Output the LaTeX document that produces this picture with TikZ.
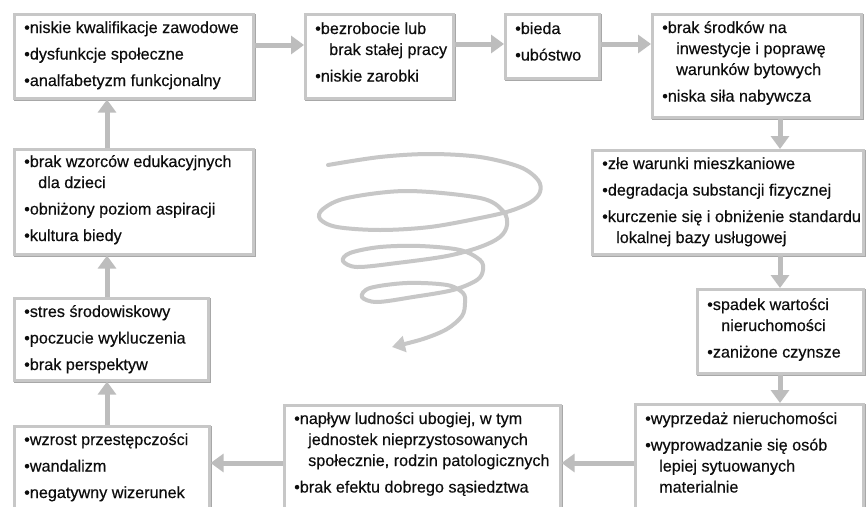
\documentclass[tikz,border=0pt]{standalone}
\usepackage{fontspec}
\setmainfont[FakeBold=0.35]{Liberation Sans}
\usetikzlibrary{arrows.meta,calc}
\newcommand\bl[1]{\hbox{•#1}}
\newcommand\cl[1]{\hbox{\kern14pt #1}}
\newcommand\gp{\vskip5.5pt}
\newcommand\lst[1]{\vtop{\baselineskip=21pt\lineskiplimit=-20pt #1}}
\tikzset{
  box/.style={rectangle, draw=black!22, line width=2.6pt, fill=white, inner sep=0pt, anchor=north west,
    preaction={draw=black!34, line width=2.6pt, transform canvas={shift={(1.2pt,-1.4pt)}}}},
  txt/.style={anchor=base west, inner sep=0pt, text=black!95, font=\fontsize{16.2}{21}\selectfont},
  conn/.style={draw=black!26, line width=5pt, -{Triangle[length=13pt,width=18pt]}},
  spiral/.style={draw=black!22, line width=4pt, line cap=round, -{Triangle[length=13pt,width=16pt]}}
}
\begin{document}
\begin{tikzpicture}[x=1pt,y=-1pt]
\useasboundingbox (0,0) rectangle (867,506);
\fill[white] (0,0) rectangle (867,506);
\clip (0,0) rectangle (867,506);
% boxes
\node[box, minimum width=239pt, minimum height=84pt] (b1) at (13,13) {};
\node[box, minimum width=148pt, minimum height=84pt] (b2) at (304,13) {};
\node[box, minimum width=94pt, minimum height=64pt] (b3) at (504,13) {};
\node[box, minimum width=209pt, minimum height=103pt] (b4) at (651,13) {};
\node[box, minimum width=271pt, minimum height=104pt] (b5) at (591,149) {};
\node[box, minimum width=166pt, minimum height=84pt] (b6) at (696,288) {};
\node[box, minimum width=228pt, minimum height=130pt] (b7) at (634,403) {};
\node[box, minimum width=276pt, minimum height=130pt] (b8) at (283,404) {};
\node[box, minimum width=195pt, minimum height=110pt] (b9) at (13,425) {};
\node[box, minimum width=239pt, minimum height=105pt] (b10) at (13,148) {};
\node[box, minimum width=194pt, minimum height=82pt] (b11) at (13,297) {};
% texts
\node[txt] (t1) at ($(b1.north west)+(11,20)$) {\lst{\bl{niskie kwalifikacje zawodowe}\gp\bl{dysfunkcje społeczne}\gp\bl{analfabetyzm funkcjonalny}}};
\node[txt] (t2) at ($(b2.north west)+(11,21)$) {\lst{\bl{bezrobocie lub}\cl{brak stałej pracy}\gp\bl{niskie zarobki}}};
\node[txt] (t3) at ($(b3.north west)+(11,21)$) {\lst{\bl{bieda}\gp\bl{ubóstwo}}};
\node[txt] (t4) at ($(b4.north west)+(11,20)$) {\lst{\bl{brak środków na}\cl{inwestycje i poprawę}\cl{warunków bytowych}\gp\bl{niska siła nabywcza}}};
\node[txt] (t5) at ($(b5.north west)+(11,20)$) {\lst{\bl{złe warunki mieszkaniowe}\gp\bl{degradacja substancji fizycznej}\gp\bl{kurczenie się i obniżenie standardu}\cl{lokalnej bazy usługowej}}};
\node[txt] (t6) at ($(b6.north west)+(11,22)$) {\lst{\bl{spadek wartości}\cl{nieruchomości}\gp\bl{zaniżone czynsze}}};
\node[txt] (t7) at ($(b7.north west)+(11,21)$) {\lst{\bl{wyprzedaż nieruchomości}\gp\bl{wyprowadzanie się osób}\cl{lepiej sytuowanych}\cl{materialnie}}};
\node[txt] (t8) at ($(b8.north west)+(11,20)$) {\lst{\bl{napływ ludności ubogiej, w tym}\cl{jednostek nieprzystosowanych}\cl{społecznie, rodzin patologicznych}\gp\bl{brak efektu dobrego sąsiedztwa}}};
\node[txt] (t9) at ($(b9.north west)+(11,20)$) {\lst{\bl{wzrost przestępczości}\gp\bl{wandalizm}\gp\bl{negatywny wizerunek}}};
\node[txt] (t10) at ($(b10.north west)+(11,19)$) {\lst{\bl{brak wzorców edukacyjnych}\cl{dla dzieci}\gp\bl{obniżony poziom aspiracji}\gp\bl{kultura biedy}}};
\node[txt] (t11) at ($(b11.north west)+(11,20)$) {\lst{\bl{stres środowiskowy}\gp\bl{poczucie wykluczenia}\gp\bl{brak perspektyw}}};
% connectors
\draw[conn] (b1.east |- 0,45) -- (b2.west |- 0,45);
\draw[conn] (b2.east |- 0,44) -- (b3.west |- 0,44);
\draw[conn] (b3.east |- 0,44) -- (b4.west |- 0,44);
\draw[conn] (b4.south -| 780,0) -- (b5.north -| 780,0);
\draw[conn] (b5.south -| 780,0) -- (b6.north -| 780,0);
\draw[conn] (b6.south -| 780,0) -- (b7.north -| 780,0);
\draw[conn] (b7.west |- 0,463) -- (b8.east |- 0,463);
\draw[conn] (b8.west |- 0,463) -- (b9.east |- 0,463);
\draw[conn] (b9.north -| 107,0) -- (b11.south -| 107,0);
\draw[conn] (b11.north -| 107,0) -- (b10.south -| 107,0);
\draw[conn] (b10.north -| 107,0) -- (b1.south -| 107,0);
% spiral
\draw[spiral] plot[smooth, tension=0.55] coordinates {
 (328,165) (380,157) (430,154) (480,157) (520,167) (538,180) (540,192)
 (531,202) (510,211) (480,218) (430,227) (380,230) (337,227) (320,219)
 (323,209) (347,198) (407,191) (480,198) (503,211) (507,225)
 (500,237) (480,247) (447,256) (397,263) (357,267) (343,261)
 (350,253) (380,247) (420,246) (460,250) (480,260) (483,270)
 (477,280) (453,290) (413,297) (377,302) (362,297)
 (370,288) (407,283) (447,285) (463,293) (465,303)
 (462,316) (447,329) (423,339) (392,347)
};
\end{tikzpicture}
\end{document}
